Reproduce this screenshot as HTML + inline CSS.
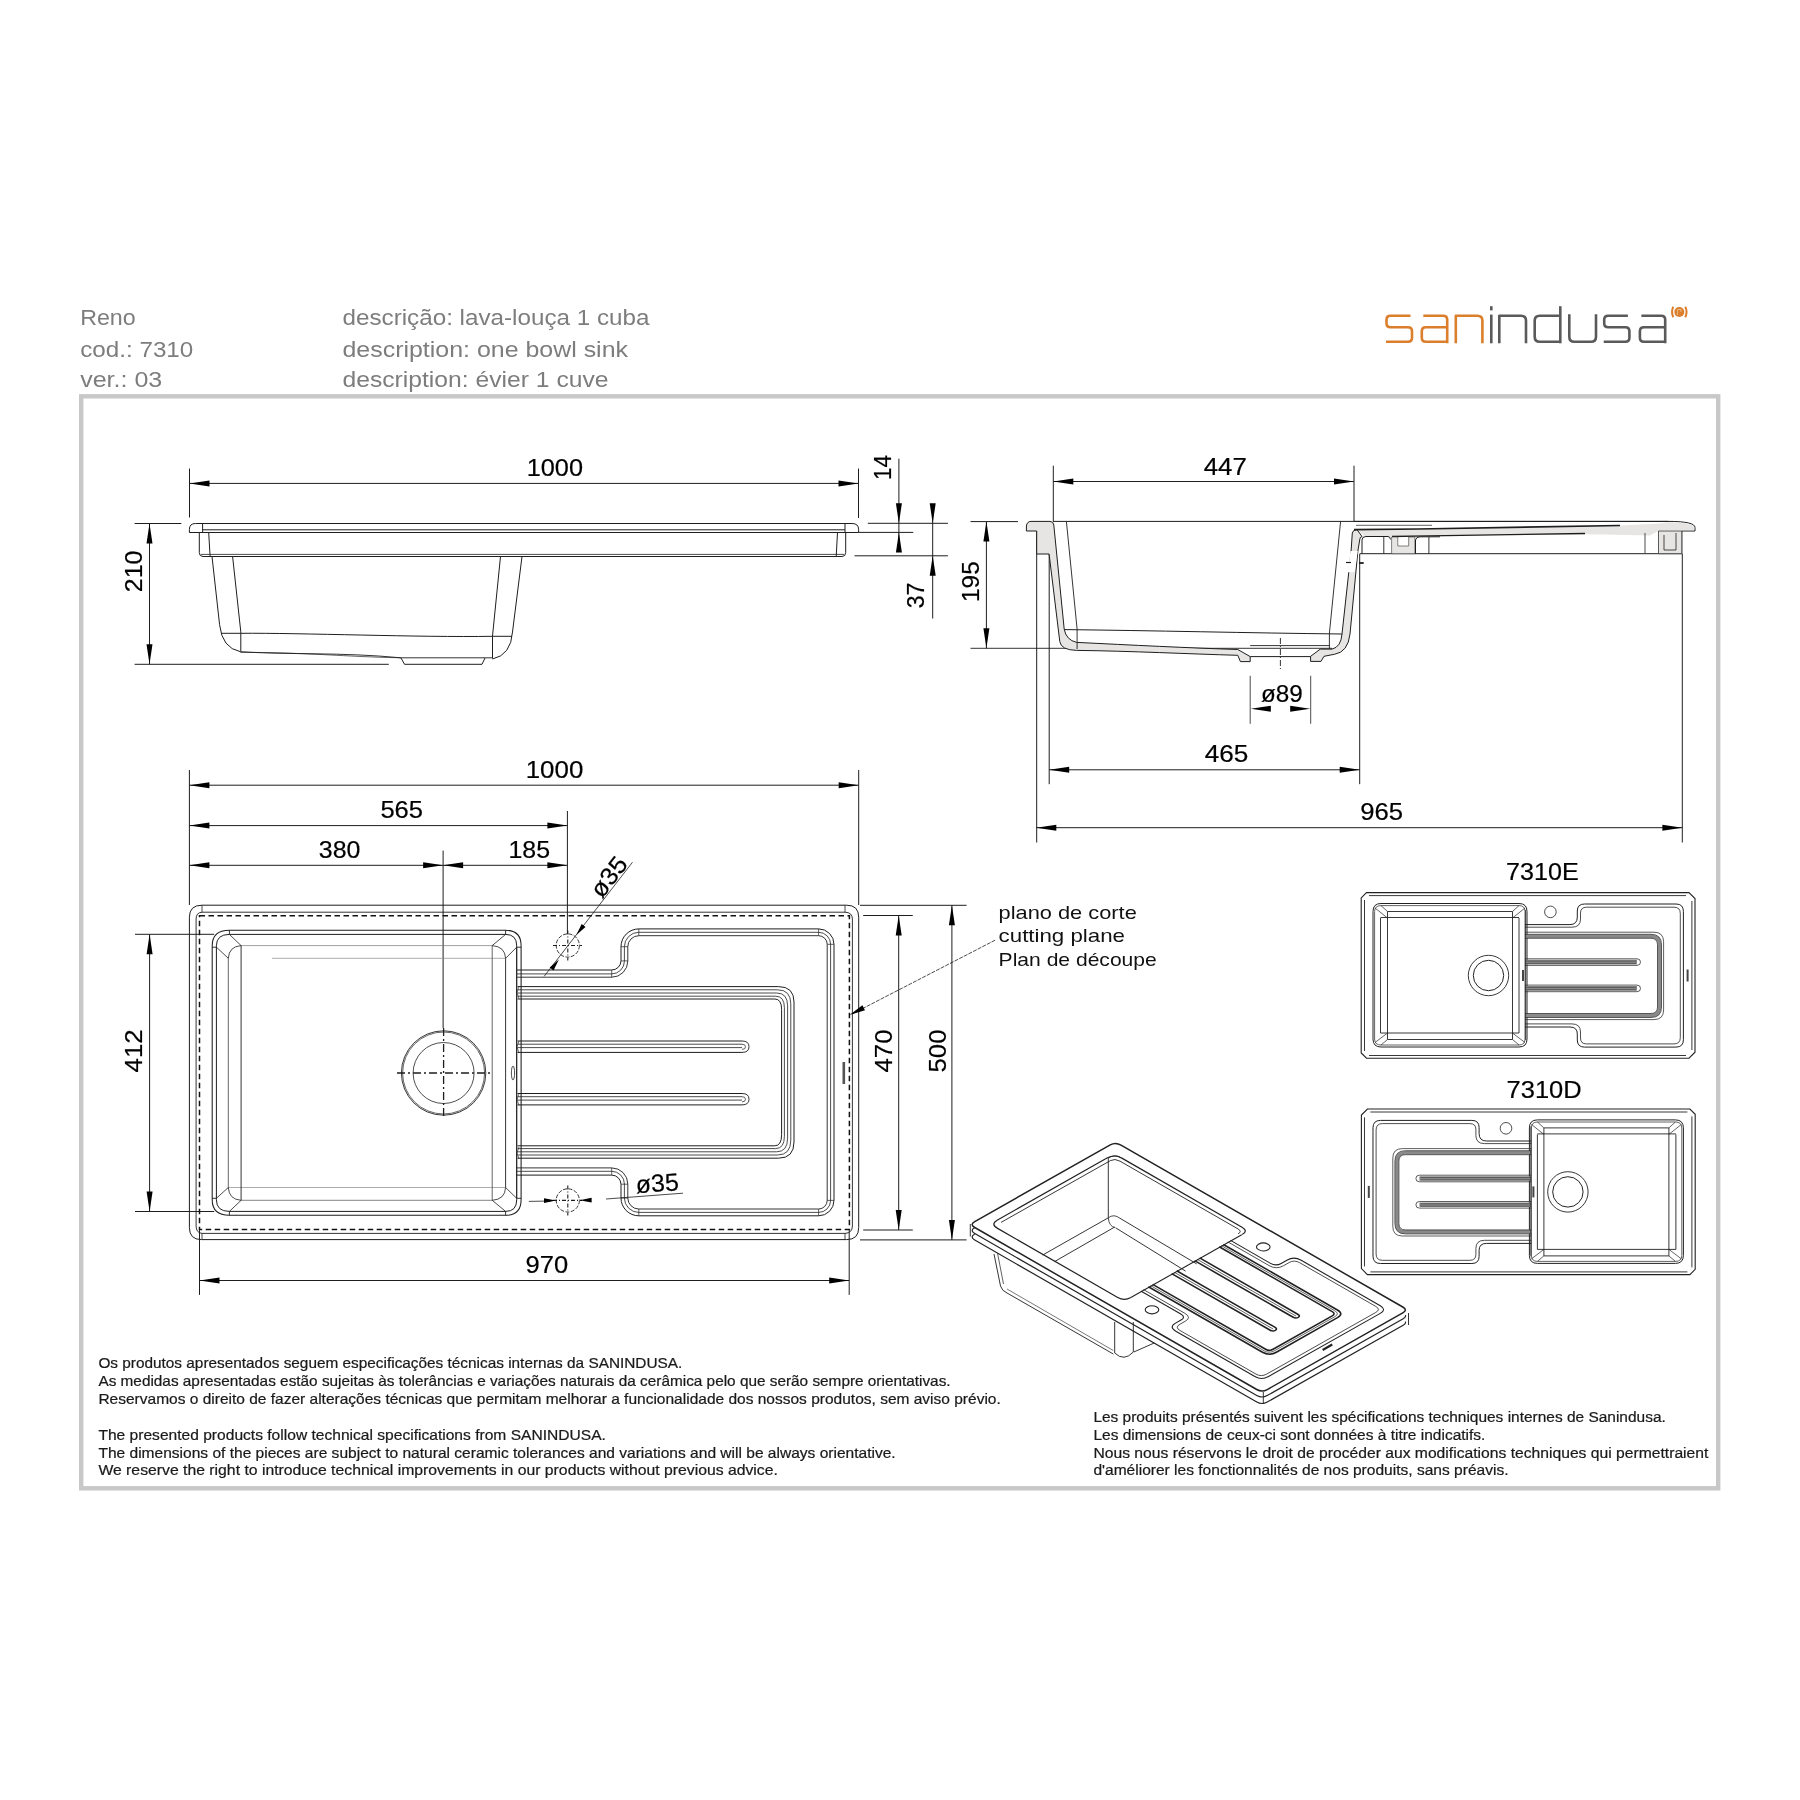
<!DOCTYPE html>
<html><head><meta charset="utf-8">
<style>
html,body{margin:0;padding:0;background:#fff;}
body{width:1800px;height:1800px;position:relative;overflow:hidden;font-family:"Liberation Sans",sans-serif;}
svg{position:absolute;left:0;top:0;will-change:transform;}
svg text{font-family:"Liberation Sans",sans-serif;}
.hd{position:absolute;color:#7f7f7f;font-size:21px;white-space:nowrap;line-height:1;}
.ft{position:absolute;color:#1a1a1a;font-size:14px;white-space:nowrap;line-height:17.8px;}
</style></head><body>
<svg width="1800" height="1800" viewBox="0 0 1800 1800">
<rect x="81.2" y="396.3" width="1637" height="1092" fill="none" stroke="#c8c8c8" stroke-width="4.4"/>
<line x1="189.5" y1="468.5" x2="189.5" y2="517.5" stroke="#1e1e1e" stroke-width="1.0" />
<line x1="858.5" y1="468.5" x2="858.5" y2="518.0" stroke="#1e1e1e" stroke-width="1.0" />
<line x1="189.5" y1="483.4" x2="858.5" y2="483.4" stroke="#1e1e1e" stroke-width="1.0" />
<polygon points="189.5,483.4 209.5,480.4 209.5,486.4" fill="#000"/>
<polygon points="858.5,483.4 838.5,486.4 838.5,480.4" fill="#000"/>
<line x1="134.6" y1="523.5" x2="181.3" y2="523.5" stroke="#1e1e1e" stroke-width="1.0" />
<line x1="134.6" y1="664.3" x2="388.8" y2="664.3" stroke="#1e1e1e" stroke-width="1.0" />
<line x1="149.5" y1="523.5" x2="149.5" y2="664.3" stroke="#1e1e1e" stroke-width="1.0" />
<polygon points="149.5,523.5 152.5,543.5 146.5,543.5" fill="#000"/>
<polygon points="149.5,664.3 146.5,644.3 152.5,644.3" fill="#000"/>
<line x1="898.9" y1="458.7" x2="898.9" y2="551.5" stroke="#1e1e1e" stroke-width="1.0" />
<polygon points="898.9,523.3 895.9,503.3 901.9,503.3" fill="#000"/>
<polygon points="898.9,532.4 901.9,552.4 895.9,552.4" fill="#000"/>
<line x1="867.8" y1="523.3" x2="947.9" y2="523.3" stroke="#1e1e1e" stroke-width="1.0" />
<line x1="858.5" y1="532.4" x2="913.3" y2="532.4" stroke="#1e1e1e" stroke-width="1.0" />
<line x1="854.5" y1="555.8" x2="947.9" y2="555.8" stroke="#1e1e1e" stroke-width="1.0" />
<line x1="932.7" y1="505.3" x2="932.7" y2="618.5" stroke="#1e1e1e" stroke-width="1.0" />
<polygon points="932.7,523.3 929.7,503.3 935.7,503.3" fill="#000"/>
<polygon points="932.7,555.8 935.7,575.8 929.7,575.8" fill="#000"/>
<path d="M195.5,523.5 H852 Q858.6,523.5 858.6,529.4 V532.5 H189.4 V529.4 Q189.4,523.5 195.5,523.5 Z" stroke="#1e1e1e" stroke-width="1.0" fill="none" />
<line x1="202.6" y1="529.8" x2="845.0" y2="529.8" stroke="#1e1e1e" stroke-width="1.0" />
<line x1="202.6" y1="523.5" x2="202.6" y2="532.5" stroke="#1e1e1e" stroke-width="1.0" />
<line x1="845.0" y1="523.5" x2="845.0" y2="532.5" stroke="#1e1e1e" stroke-width="1.0" />
<path d="M199.3,532.5 V552.5 Q199.3,556.5 203,556.5 H842 Q845.7,556.5 845.7,552.5 V532.5" stroke="#1e1e1e" stroke-width="1.0" fill="none" />
<line x1="208.7" y1="532.5" x2="210.1" y2="556.5" stroke="#1e1e1e" stroke-width="1.0" />
<line x1="837.5" y1="532.5" x2="836.2" y2="556.5" stroke="#1e1e1e" stroke-width="1.0" />
<line x1="201.0" y1="554.4" x2="844.0" y2="554.4" stroke="#1e1e1e" stroke-width="0.8" />
<path d="M212,556.5 L219.6,624.8 Q222,648 240.4,651.7" stroke="#1e1e1e" stroke-width="1.0" fill="none" />
<path d="M232.6,556.5 L240.8,631.9 V651.7" stroke="#1e1e1e" stroke-width="1.0" fill="none" />
<path d="M522,556.5 L512.5,632 Q511,655 492.5,659" stroke="#1e1e1e" stroke-width="1.0" fill="none" />
<path d="M500.5,556.5 L492.5,636 V658.5" stroke="#1e1e1e" stroke-width="1.0" fill="none" />
<path d="M221,633.3 H240.8 C300,632.8 420,637.5 492.5,636.3 H512" stroke="#1e1e1e" stroke-width="1.0" fill="none" />
<path d="M240.4,651.7 C290,655 340,652 401,657.8 H492.5" stroke="#1e1e1e" stroke-width="0.9" fill="none" />
<path d="M240.4,652.4 C300,652 350,657 401,657.8" stroke="#1e1e1e" stroke-width="0.7" fill="none" />
<path d="M401,658 L404.5,664.3 H482 L485,658" stroke="#1e1e1e" stroke-width="1.0" fill="none" />
<line x1="1053.3" y1="465.7" x2="1053.3" y2="521.4" stroke="#1e1e1e" stroke-width="1.0" />
<line x1="1354.0" y1="465.7" x2="1354.0" y2="521.4" stroke="#1e1e1e" stroke-width="1.0" />
<line x1="1053.3" y1="481.5" x2="1354.0" y2="481.5" stroke="#1e1e1e" stroke-width="1.0" />
<polygon points="1053.3,481.5 1073.3,478.5 1073.3,484.5" fill="#000"/>
<polygon points="1354.0,481.5 1334.0,484.5 1334.0,478.5" fill="#000"/>
<line x1="970.5" y1="521.6" x2="1018.0" y2="521.6" stroke="#1e1e1e" stroke-width="1.0" />
<line x1="970.5" y1="648.3" x2="1332.0" y2="648.3" stroke="#1e1e1e" stroke-width="0.9" />
<line x1="986.4" y1="521.6" x2="986.4" y2="648.3" stroke="#1e1e1e" stroke-width="1.0" />
<polygon points="986.4,521.6 989.4,541.6 983.4,541.6" fill="#000"/>
<polygon points="986.4,648.3 983.4,628.3 989.4,628.3" fill="#000"/>
<line x1="1053.0" y1="521.4" x2="1668.6" y2="521.4" stroke="#1e1e1e" stroke-width="1.0" />
<line x1="1036.7" y1="531.0" x2="1036.7" y2="842.5" stroke="#1e1e1e" stroke-width="1.0" />
<line x1="1049.2" y1="554.0" x2="1049.2" y2="784.2" stroke="#1e1e1e" stroke-width="1.0" />
<line x1="1359.7" y1="554.0" x2="1359.7" y2="784.2" stroke="#1e1e1e" stroke-width="1.0" />
<line x1="1682.3" y1="553.7" x2="1682.3" y2="842.5" stroke="#1e1e1e" stroke-width="1.0" />
<line x1="1049.2" y1="769.8" x2="1359.7" y2="769.8" stroke="#1e1e1e" stroke-width="1.0" />
<polygon points="1049.2,769.8 1069.2,766.8 1069.2,772.8" fill="#000"/>
<polygon points="1359.7,769.8 1339.7,772.8 1339.7,766.8" fill="#000"/>
<line x1="1036.3" y1="827.7" x2="1682.4" y2="827.7" stroke="#1e1e1e" stroke-width="1.0" />
<polygon points="1036.3,827.7 1056.3,824.7 1056.3,830.7" fill="#000"/>
<polygon points="1682.4,827.7 1662.4,830.7 1662.4,824.7" fill="#000"/>
<path d="M1031,521.4 H1050 Q1053.5,521.4 1053.8,525 L1064.2,629 Q1066,640 1076.7,642.4 C1130,645 1190,648 1237.8,649.5 L1250.2,656.6 V661.6 H1240.4 L1237.8,655.3 C1190,654 1130,651 1076.7,650.4 Q1061,650 1059.8,641.6 L1049.1,554 H1036.7 V531 H1026.4 V526 Q1027,521.4 1031,521.4 Z" stroke="#1e1e1e" stroke-width="1.0" fill="#e7e5e3" />
<path d="M1310.6,661.4 V656.3 L1320.3,649.1 H1332 Q1341,647 1342,634 L1351.1,551 L1352.3,533 Q1353,529.6 1357,529.6 L1362,536.5 Q1359.7,537 1359.7,540 L1357.9,551 L1350,634 Q1348,652 1334.8,654.2 L1324,656.3 L1321,661.4 Z" stroke="#1e1e1e" stroke-width="1.0" fill="#e7e5e3" />
<polygon points="1350.5,551 1357.8,551 1354.6,572.3 1347.6,572.3" fill="#fff"/>
<line x1="1346.0" y1="562.5" x2="1351.0" y2="562.5" stroke="#1e1e1e" stroke-width="1.2" />
<line x1="1359.0" y1="563.0" x2="1363.7" y2="563.0" stroke="#1e1e1e" stroke-width="1.8" />
<path d="M1066.4,521.4 L1077.1,629 V649" stroke="#1e1e1e" stroke-width="0.9" fill="none" />
<path d="M1340.6,521.4 L1329.4,633.2 V648.4" stroke="#1e1e1e" stroke-width="0.9" fill="none" />
<path d="M1064.2,629.6 C1150,630.5 1250,633 1342,634" stroke="#1e1e1e" stroke-width="1.0" fill="none" />
<path d="M1250.2,645.6 H1329.4" stroke="#1e1e1e" stroke-width="0.9" fill="none" />
<path d="M1250.2,656.6 H1310.6" stroke="#1e1e1e" stroke-width="1.0" fill="none" />
<path d="M1280.4,638 V670" stroke="#1e1e1e" stroke-width="0.9" fill="none" stroke-dasharray="6,2,1,2"/>
<path d="M1354,521.4 H1668.6 Q1695,521.4 1695,527.5 V531 H1681.8 V553.7 H1359.7" stroke="#1e1e1e" stroke-width="1.0" fill="none" />
<path d="M1358,530 C1450,529.2 1550,527 1620,525.5 L1660,523.5 L1668.6,522.2 Q1694,522.3 1694.2,528 V530.3 H1660 L1650,535.5 C1560,533 1470,535 1392,536.5 L1365,537 Z" fill="#e7e5e3" stroke="none"/>
<path d="M1354,529.6 C1450,528.8 1560,527 1620,525.5" stroke="#1e1e1e" stroke-width="1.6" fill="none" />
<path d="M1356,525.3 H1432" stroke="#1e1e1e" stroke-width="0.7" fill="none" />
<path d="M1392,536.5 C1470,535.3 1560,534 1585,533.5" stroke="#1e1e1e" stroke-width="1.3" fill="none" />
<path d="M1362,553.7 V540 Q1362,536.5 1366,536.5 H1388 Q1390.4,536.5 1390.4,539.5" stroke="#1e1e1e" stroke-width="1.0" fill="none" />
<line x1="1383.8" y1="537.0" x2="1383.8" y2="553.7" stroke="#1e1e1e" stroke-width="0.9" />
<path d="M1391.6,537 H1397.8 V546 H1408.7 V537 H1414.9 V553.7 H1391.6 Z" fill="#e7e5e3" stroke="#333" stroke-width="0.6"/>
<path d="M1415.5,553.7 V540 Q1416,536.8 1420,536.8 H1440" stroke="#1e1e1e" stroke-width="1.0" fill="none" />
<line x1="1428.9" y1="537.0" x2="1428.9" y2="553.7" stroke="#1e1e1e" stroke-width="0.9" />
<path d="M1658.5,531 H1681.8 V553.7 H1658.5 Z" fill="#e7e5e3" stroke="#333" stroke-width="0.8"/>
<path d="M1664,535 V550 H1676 V533" stroke="#1e1e1e" stroke-width="0.8" fill="none" />
<line x1="1645.0" y1="533.0" x2="1645.0" y2="553.0" stroke="#1e1e1e" stroke-width="0.8" />
<line x1="189.4" y1="770.0" x2="189.4" y2="905.0" stroke="#1e1e1e" stroke-width="1.0" />
<line x1="858.7" y1="770.0" x2="858.7" y2="905.0" stroke="#1e1e1e" stroke-width="1.0" />
<line x1="189.4" y1="785.2" x2="858.7" y2="785.2" stroke="#1e1e1e" stroke-width="1.0" />
<polygon points="189.4,785.2 209.4,782.2 209.4,788.2" fill="#000"/>
<polygon points="858.7,785.2 838.7,788.2 838.7,782.2" fill="#000"/>
<line x1="567.4" y1="811.0" x2="567.4" y2="934.0" stroke="#1e1e1e" stroke-width="1.0" />
<line x1="189.4" y1="825.6" x2="567.4" y2="825.6" stroke="#1e1e1e" stroke-width="1.0" />
<polygon points="189.4,825.6 209.4,822.6 209.4,828.6" fill="#000"/>
<polygon points="567.4,825.6 547.4,828.6 547.4,822.6" fill="#000"/>
<line x1="443.1" y1="850.6" x2="443.1" y2="1028.0" stroke="#1e1e1e" stroke-width="1.0" />
<line x1="189.4" y1="865.3" x2="567.4" y2="865.3" stroke="#1e1e1e" stroke-width="1.0" />
<polygon points="189.4,865.3 209.4,862.3 209.4,868.3" fill="#000"/>
<polygon points="443.1,865.3 423.1,868.3 423.1,862.3" fill="#000"/>
<polygon points="443.1,865.3 463.1,862.3 463.1,868.3" fill="#000"/>
<polygon points="567.4,865.3 547.4,868.3 547.4,862.3" fill="#000"/>
<line x1="135.0" y1="934.3" x2="214.2" y2="934.3" stroke="#1e1e1e" stroke-width="1.0" />
<line x1="135.0" y1="1211.5" x2="214.2" y2="1211.5" stroke="#1e1e1e" stroke-width="1.0" />
<line x1="149.6" y1="934.3" x2="149.6" y2="1211.5" stroke="#1e1e1e" stroke-width="1.0" />
<polygon points="149.6,934.3 152.6,954.3 146.6,954.3" fill="#000"/>
<polygon points="149.6,1211.5 146.6,1191.5 152.6,1191.5" fill="#000"/>
<line x1="863.2" y1="915.5" x2="912.8" y2="915.5" stroke="#1e1e1e" stroke-width="1.0" />
<line x1="863.2" y1="1230.0" x2="912.8" y2="1230.0" stroke="#1e1e1e" stroke-width="1.0" />
<line x1="898.7" y1="915.5" x2="898.7" y2="1230.0" stroke="#1e1e1e" stroke-width="1.0" />
<polygon points="898.7,915.5 901.7,935.5 895.7,935.5" fill="#000"/>
<polygon points="898.7,1230.0 895.7,1210.0 901.7,1210.0" fill="#000"/>
<line x1="860.0" y1="905.3" x2="966.6" y2="905.3" stroke="#1e1e1e" stroke-width="1.0" />
<line x1="860.0" y1="1239.9" x2="966.6" y2="1239.9" stroke="#1e1e1e" stroke-width="1.0" />
<line x1="951.9" y1="905.3" x2="951.9" y2="1239.9" stroke="#1e1e1e" stroke-width="1.0" />
<polygon points="951.9,905.3 954.9,925.3 948.9,925.3" fill="#000"/>
<polygon points="951.9,1239.9 948.9,1219.9 954.9,1219.9" fill="#000"/>
<line x1="199.5" y1="1230.0" x2="199.5" y2="1294.9" stroke="#1e1e1e" stroke-width="1.0" />
<line x1="849.2" y1="1230.0" x2="849.2" y2="1294.9" stroke="#1e1e1e" stroke-width="1.0" />
<line x1="199.5" y1="1280.5" x2="849.2" y2="1280.5" stroke="#1e1e1e" stroke-width="1.0" />
<polygon points="199.5,1280.5 219.5,1277.5 219.5,1283.5" fill="#000"/>
<polygon points="849.2,1280.5 829.2,1283.5 829.2,1277.5" fill="#000"/>
<path d="M202,905.2 H846.7 Q858.7,905.2 858.7,917.2 V1227.6 Q858.7,1239.6 846.7,1239.6 H201.4 Q189.4,1239.6 189.4,1227.6 V917.2 Q189.4,905.2 202,905.2 Z" stroke="#1e1e1e" stroke-width="1.0" fill="none" />
<path d="M202,912.2 Q196.1,912.6 196.1,919 V1226 Q196.1,1232.8 202,1233.4 H845 Q852.4,1233 852.4,1226 V919 Q852.4,912.4 845,912.2 Z" stroke="#1e1e1e" stroke-width="0.9" fill="none" />
<line x1="202.0" y1="905.2" x2="202.0" y2="912.2" stroke="#1e1e1e" stroke-width="0.8" />
<line x1="845.0" y1="905.2" x2="845.0" y2="912.2" stroke="#1e1e1e" stroke-width="0.8" />
<line x1="202.0" y1="1233.4" x2="202.0" y2="1239.6" stroke="#1e1e1e" stroke-width="0.8" />
<line x1="845.0" y1="1233.4" x2="845.0" y2="1239.6" stroke="#1e1e1e" stroke-width="0.8" />
<rect x="199.5" y="915.7" width="649.9" height="313.9" fill="none" stroke="#111" stroke-width="1.5" stroke-dasharray="5.5,3.5"/>
<path d="M229.4,930.3 H505.6 Q521.1,930.3 521.1,945.8 V1199.8 Q521.1,1215.3 505.6,1215.3 H229.4 Q212.2,1215.3 212.2,1199.8 V945.8 Q212.2,930.3 229.4,930.3 Z" stroke="#1e1e1e" stroke-width="1.05" fill="none" />
<path d="M229.4,934.4 H505.6 Q516.7,934.4 516.7,945.8 V1199.8 Q516.7,1211.4 505.6,1211.4 H229.4 Q216.4,1211.4 216.4,1199.8 V945.8 Q216.4,934.4 229.4,934.4 Z" stroke="#1e1e1e" stroke-width="1.0" fill="none" />
<line x1="229.4" y1="930.3" x2="229.4" y2="934.4" stroke="#1e1e1e" stroke-width="0.9" />
<line x1="505.6" y1="930.3" x2="505.6" y2="934.4" stroke="#1e1e1e" stroke-width="0.9" />
<line x1="229.4" y1="1211.4" x2="229.4" y2="1215.3" stroke="#1e1e1e" stroke-width="0.9" />
<line x1="505.6" y1="1211.4" x2="505.6" y2="1215.3" stroke="#1e1e1e" stroke-width="0.9" />
<line x1="212.2" y1="947.2" x2="216.4" y2="947.2" stroke="#1e1e1e" stroke-width="0.9" />
<line x1="516.7" y1="947.2" x2="521.1" y2="947.2" stroke="#1e1e1e" stroke-width="0.9" />
<line x1="212.2" y1="1198.3" x2="216.4" y2="1198.3" stroke="#1e1e1e" stroke-width="0.9" />
<line x1="516.7" y1="1198.3" x2="521.1" y2="1198.3" stroke="#1e1e1e" stroke-width="0.9" />
<line x1="241.0" y1="945.6" x2="492.2" y2="945.6" stroke="#777" stroke-width="0.7" />
<line x1="272.0" y1="958.3" x2="505.6" y2="958.3" stroke="#888" stroke-width="0.7" />
<line x1="228.0" y1="1187.5" x2="505.6" y2="1187.5" stroke="#888" stroke-width="0.7" />
<line x1="241.0" y1="1200.3" x2="492.2" y2="1200.3" stroke="#666" stroke-width="0.8" />
<line x1="228.3" y1="958.3" x2="228.3" y2="1187.5" stroke="#555" stroke-width="0.9" />
<line x1="241.1" y1="945.6" x2="241.1" y2="1200.3" stroke="#1e1e1e" stroke-width="0.9" />
<line x1="492.2" y1="945.6" x2="492.2" y2="1200.3" stroke="#555" stroke-width="0.9" />
<line x1="505.6" y1="958.3" x2="505.6" y2="1187.5" stroke="#1e1e1e" stroke-width="0.9" />
<path d="M229.4,934.4 L241.1,945.6 M216.4,947.2 L228.3,958.3 M241.1,945.6 Q229,946.5 228.3,958.3" stroke="#1e1e1e" stroke-width="0.8" fill="none" />
<path d="M505.6,934.4 L492.2,945.6 M516.7,947.2 L505.6,958.3 M492.2,945.6 Q505,946.5 505.6,958.3" stroke="#1e1e1e" stroke-width="0.8" fill="none" />
<path d="M216.4,1198.3 L228.3,1187.5 M229.4,1211.4 L241.1,1200.3 M228.3,1187.5 Q229,1199.5 241.1,1200.3" stroke="#1e1e1e" stroke-width="0.8" fill="none" />
<path d="M516.7,1198.3 L505.6,1187.5 M505.6,1211.4 L492.2,1200.3 M505.6,1187.5 Q505,1199.5 492.2,1200.3" stroke="#1e1e1e" stroke-width="0.8" fill="none" />
<ellipse cx="513" cy="1073" rx="1.6" ry="7" fill="none" stroke="#222" stroke-width="0.8"/>
<circle cx="443.6" cy="1073" r="42.2" fill="none" stroke="#222" stroke-width="0.9"/>
<circle cx="443.6" cy="1073" r="41" fill="none" stroke="#222" stroke-width="0.7"/>
<circle cx="443.6" cy="1073" r="30.5" fill="none" stroke="#222" stroke-width="0.8"/>
<path d="M397,1073 H490" stroke="#1e1e1e" stroke-width="1.3" fill="none" stroke-dasharray="8,3,2,3"/>
<path d="M443.6,1028 V1119" stroke="#1e1e1e" stroke-width="1.3" fill="none" stroke-dasharray="8,3,2,3"/>
<circle cx="567.8" cy="945.5" r="11.6" fill="none" stroke="#222" stroke-width="0.9" stroke-dasharray="4,1.5"/>
<path d="M553,945.5 H582" stroke="#1e1e1e" stroke-width="1.1" fill="none" stroke-dasharray="4,2,1,2"/>
<path d="M567.8,930.5 V960.5" stroke="#1e1e1e" stroke-width="1.1" fill="none" stroke-dasharray="4,2,1,2"/>
<circle cx="567.8" cy="1200.4" r="11.6" fill="none" stroke="#222" stroke-width="0.9" stroke-dasharray="4,1.5"/>
<path d="M553,1200.4 H582" stroke="#1e1e1e" stroke-width="1.1" fill="none" stroke-dasharray="4,2,1,2"/>
<path d="M567.8,1185.4 V1215.4" stroke="#1e1e1e" stroke-width="1.1" fill="none" stroke-dasharray="4,2,1,2"/>
<path d="M516.7,970 H611.7 A9.3,9.3 0 0 0 621,960.7 V946.7 A17.8,17.8 0 0 1 638.8,928.9 H818.6 A15.4,15.4 0 0 1 834,944.3 V1200.4 A15.4,15.4 0 0 1 818.6,1215.8 H638.8 A17.8,17.8 0 0 1 621,1198 V1184.4 A9.3,9.3 0 0 0 611.7,1175.1 H516.7" stroke="#1e1e1e" stroke-width="1.0" fill="none" />
<path d="M516.7,973.9 H611.7 A12.7,12.7 0 0 0 624.4,961.2 V946.7 A14.4,14.4 0 0 1 638.8,932.3 H818.6 A12,12 0 0 1 830.6,944.3 V1200.4 A12,12 0 0 1 818.6,1212.4 H638.8 A14.4,14.4 0 0 1 624.4,1198 V1184 A12.7,12.7 0 0 0 611.7,1171.3 H516.7" stroke="#1e1e1e" stroke-width="0.8" fill="none" />
<path d="M516.7,977.2 H611.7 A16.1,16.1 0 0 0 627.8,961.1 V946.7 A11,11 0 0 1 638.8,935.7 H818.6 A8.6,8.6 0 0 1 827.2,944.3 V1200.4 A8.6,8.6 0 0 1 818.6,1209 H638.8 A11,11 0 0 1 627.8,1198 V1184 A16.1,16.1 0 0 0 611.7,1167.9 H516.7" stroke="#1e1e1e" stroke-width="0.9" fill="none" />
<line x1="611.7" y1="970.0" x2="611.7" y2="977.2" stroke="#1e1e1e" stroke-width="0.7" />
<line x1="621.0" y1="960.9" x2="627.8" y2="960.9" stroke="#1e1e1e" stroke-width="0.7" />
<line x1="621.0" y1="946.7" x2="627.8" y2="946.7" stroke="#1e1e1e" stroke-width="0.7" />
<line x1="638.8" y1="928.9" x2="638.8" y2="935.7" stroke="#1e1e1e" stroke-width="0.7" />
<line x1="818.6" y1="928.9" x2="818.6" y2="935.7" stroke="#1e1e1e" stroke-width="0.7" />
<line x1="827.2" y1="944.3" x2="834.0" y2="944.3" stroke="#1e1e1e" stroke-width="0.7" />
<line x1="827.2" y1="1200.4" x2="834.0" y2="1200.4" stroke="#1e1e1e" stroke-width="0.7" />
<line x1="818.6" y1="1209.0" x2="818.6" y2="1215.8" stroke="#1e1e1e" stroke-width="0.7" />
<line x1="638.8" y1="1209.0" x2="638.8" y2="1215.8" stroke="#1e1e1e" stroke-width="0.7" />
<line x1="621.0" y1="1198.0" x2="627.8" y2="1198.0" stroke="#1e1e1e" stroke-width="0.7" />
<line x1="621.0" y1="1184.2" x2="627.8" y2="1184.2" stroke="#1e1e1e" stroke-width="0.7" />
<line x1="611.7" y1="1167.9" x2="611.7" y2="1175.1" stroke="#1e1e1e" stroke-width="0.7" />
<line x1="516.7" y1="948.0" x2="516.7" y2="1198.0" stroke="#1e1e1e" stroke-width="0.8" />
<path d="M517.5,986.6 H778.5 Q794.0,986.6 794.0,1002.0 V1142.0 Q794.0,1158.2 778.5,1158.2 H517.5" stroke="#1e1e1e" stroke-width="1.0" fill="none" />
<path d="M517.5,989.8 H777.5 Q790.8,989.8 790.8,1003.9 V1140.1 Q790.8,1155.0 777.5,1155.0 H517.5" stroke="#1e1e1e" stroke-width="0.8" fill="none" />
<path d="M517.5,993.0 H776.6 Q787.6,993.0 787.6,1005.8 V1138.2 Q787.6,1151.8 776.6,1151.8 H517.5" stroke="#1e1e1e" stroke-width="0.8" fill="none" />
<path d="M517.5,996.2 H775.6 Q784.4,996.2 784.4,1007.8 V1136.2 Q784.4,1148.6 775.6,1148.6 H517.5" stroke="#1e1e1e" stroke-width="0.8" fill="none" />
<path d="M517.5,999.0 H774.8 Q781.6,999.0 781.6,1009.4 V1134.6 Q781.6,1145.8 774.8,1145.8 H517.5" stroke="#1e1e1e" stroke-width="1.0" fill="none" />
<line x1="517.5" y1="1041.0" x2="742.0" y2="1041.0" stroke="#1e1e1e" stroke-width="1.0" />
<line x1="517.5" y1="1044.2" x2="742.0" y2="1044.2" stroke="#1e1e1e" stroke-width="0.8" />
<line x1="517.5" y1="1047.6" x2="742.0" y2="1047.6" stroke="#1e1e1e" stroke-width="0.8" />
<line x1="517.5" y1="1052.4" x2="742.0" y2="1052.4" stroke="#1e1e1e" stroke-width="1.0" />
<path d="M742,1041 Q749,1041 749,1046.7 Q749,1052.4 742,1052.4" stroke="#1e1e1e" stroke-width="0.9" fill="none" />
<path d="M742,1044.2 Q745.5,1044.2 745.5,1046.7 Q745.5,1049.4 742,1049.4" stroke="#1e1e1e" stroke-width="0.7" fill="none" />
<line x1="517.5" y1="1093.5" x2="742.0" y2="1093.5" stroke="#1e1e1e" stroke-width="1.0" />
<line x1="517.5" y1="1096.7" x2="742.0" y2="1096.7" stroke="#1e1e1e" stroke-width="0.8" />
<line x1="517.5" y1="1100.1" x2="742.0" y2="1100.1" stroke="#1e1e1e" stroke-width="0.8" />
<line x1="517.5" y1="1104.9" x2="742.0" y2="1104.9" stroke="#1e1e1e" stroke-width="1.0" />
<path d="M742,1093.5 Q749,1093.5 749,1099.2 Q749,1104.9 742,1104.9" stroke="#1e1e1e" stroke-width="0.9" fill="none" />
<path d="M742,1096.7 Q745.5,1096.7 745.5,1099.2 Q745.5,1101.9 742,1101.9" stroke="#1e1e1e" stroke-width="0.7" fill="none" />
<path d="M519,986.6 L517,992.6 L519,998.6" stroke="#1e1e1e" stroke-width="0.6" fill="none" />
<path d="M519,1041 L517,1047 L519,1053" stroke="#1e1e1e" stroke-width="0.6" fill="none" />
<path d="M519,1093.5 L517,1099.5 L519,1105.5" stroke="#1e1e1e" stroke-width="0.6" fill="none" />
<path d="M519,1147 L517,1153 L519,1159" stroke="#1e1e1e" stroke-width="0.6" fill="none" />
<rect x="842.5" y="1062" width="2.6" height="22" fill="#555"/>
<line x1="544.2" y1="976.3" x2="632.5" y2="862.2" stroke="#1e1e1e" stroke-width="0.8" />
<polygon points="558.9,959.4 553.5,970.4 549.7,967.4" fill="#000"/>
<polygon points="576.3,934.9 581.7,923.9 585.5,926.9" fill="#000"/>
<line x1="528.8" y1="1201.4" x2="551.0" y2="1201.0" stroke="#1e1e1e" stroke-width="0.8" />
<line x1="606.0" y1="1199.0" x2="683.0" y2="1193.2" stroke="#1e1e1e" stroke-width="0.8" />
<polygon points="556.0,1200.6 544.0,1203.0 544.0,1198.2" fill="#000"/>
<polygon points="579.6,1200.2 591.6,1197.8 591.6,1202.6" fill="#000"/>
<text x="-28.15" y="8.25" font-size="23.98" fill="#000" textLength="56.26" lengthAdjust="spacingAndGlyphs" stroke="#000" stroke-width="0.2" transform="translate(554.85 467.50) rotate(0)">1000</text>
<text x="-20.80" y="8.25" font-size="23.98" fill="#000" textLength="41.60" lengthAdjust="spacingAndGlyphs" stroke="#000" stroke-width="0.2" transform="translate(133.60 571.40) rotate(-90)">210</text>
<text x="-12.45" y="8.25" font-size="23.98" fill="#000" textLength="24.94" lengthAdjust="spacingAndGlyphs" stroke="#000" stroke-width="0.2" transform="translate(882.60 467.60) rotate(-90)">14</text>
<text x="-12.80" y="8.25" font-size="23.98" fill="#000" textLength="25.64" lengthAdjust="spacingAndGlyphs" stroke="#000" stroke-width="0.2" transform="translate(915.90 595.50) rotate(-90)">37</text>
<text x="-21.55" y="8.25" font-size="23.98" fill="#000" textLength="43.10" lengthAdjust="spacingAndGlyphs" stroke="#000" stroke-width="0.2" transform="translate(1225.20 466.30) rotate(0)">447</text>
<text x="-20.40" y="8.25" font-size="23.98" fill="#000" textLength="40.80" lengthAdjust="spacingAndGlyphs" stroke="#000" stroke-width="0.2" transform="translate(971.00 581.60) rotate(-90)">195</text>
<text x="-21.80" y="8.25" font-size="23.98" fill="#000" textLength="43.60" lengthAdjust="spacingAndGlyphs" stroke="#000" stroke-width="0.2" transform="translate(1226.50 753.60) rotate(0)">465</text>
<text x="-21.40" y="8.25" font-size="23.98" fill="#000" textLength="42.80" lengthAdjust="spacingAndGlyphs" stroke="#000" stroke-width="0.2" transform="translate(1381.70 812.00) rotate(0)">965</text>
<text x="-20.90" y="8.38" font-size="24.68" fill="#000" textLength="41.83" lengthAdjust="spacingAndGlyphs" stroke="#000" stroke-width="0.2" transform="translate(1281.80 693.20) rotate(0)">ø89</text>
<text x="-28.85" y="8.25" font-size="23.98" fill="#000" textLength="57.66" lengthAdjust="spacingAndGlyphs" stroke="#000" stroke-width="0.2" transform="translate(554.50 770.00) rotate(0)">1000</text>
<text x="-21.30" y="8.25" font-size="23.98" fill="#000" textLength="42.60" lengthAdjust="spacingAndGlyphs" stroke="#000" stroke-width="0.2" transform="translate(401.70 810.10) rotate(0)">565</text>
<text x="-20.80" y="8.25" font-size="23.98" fill="#000" textLength="41.60" lengthAdjust="spacingAndGlyphs" stroke="#000" stroke-width="0.2" transform="translate(339.60 849.50) rotate(0)">380</text>
<text x="-20.80" y="8.25" font-size="23.98" fill="#000" textLength="41.60" lengthAdjust="spacingAndGlyphs" stroke="#000" stroke-width="0.2" transform="translate(529.30 849.50) rotate(0)">185</text>
<text x="-21.30" y="8.25" font-size="23.98" fill="#000" textLength="42.60" lengthAdjust="spacingAndGlyphs" stroke="#000" stroke-width="0.2" transform="translate(546.90 1264.50) rotate(0)">970</text>
<text x="-21.55" y="8.38" font-size="23.98" fill="#000" textLength="43.10" lengthAdjust="spacingAndGlyphs" stroke="#000" stroke-width="0.2" transform="translate(134.10 1050.90) rotate(-90)">412</text>
<text x="-21.50" y="8.25" font-size="23.98" fill="#000" textLength="43.00" lengthAdjust="spacingAndGlyphs" stroke="#000" stroke-width="0.2" transform="translate(883.60 1051.00) rotate(-90)">470</text>
<text x="-21.50" y="8.25" font-size="23.98" fill="#000" textLength="43.00" lengthAdjust="spacingAndGlyphs" stroke="#000" stroke-width="0.2" transform="translate(937.40 1051.00) rotate(-90)">500</text>
<text x="-21.50" y="8.38" font-size="24.68" fill="#000" textLength="43.03" lengthAdjust="spacingAndGlyphs" stroke="#000" stroke-width="0.2" transform="translate(657.20 1183.30) rotate(-4)">ø35</text>
<text x="-22.00" y="8.38" font-size="24.68" fill="#000" textLength="44.03" lengthAdjust="spacingAndGlyphs" stroke="#000" stroke-width="0.2" transform="translate(608.80 876.90) rotate(-52.3)">ø35</text>
<text x="-36.30" y="8.56" font-size="24.82" fill="#000" textLength="72.63" lengthAdjust="spacingAndGlyphs" stroke="#000" stroke-width="0.2" transform="translate(1542.30 871.20) rotate(0)">7310E</text>
<text x="-37.50" y="8.25" font-size="23.98" fill="#000" textLength="75.03" lengthAdjust="spacingAndGlyphs" stroke="#000" stroke-width="0.2" transform="translate(1544.10 1089.50) rotate(0)">7310D</text>
<line x1="1250.2" y1="675.8" x2="1250.2" y2="723.8" stroke="#1e1e1e" stroke-width="0.8" />
<line x1="1310.7" y1="675.8" x2="1310.7" y2="723.8" stroke="#1e1e1e" stroke-width="0.8" />
<polygon points="1250.8,708.7 1270.8,705.7 1270.8,711.7" fill="#000"/>
<polygon points="1310.2,708.7 1290.2,711.7 1290.2,705.7" fill="#000"/>
<line x1="995.1" y1="940.2" x2="853.0" y2="1013.5" stroke="#1e1e1e" stroke-width="0.8" stroke-dasharray="4,1.2"/>
<polygon points="849.5,1015.1 862.4,1005.3 865.0,1010.3" fill="#000"/>
<text x="998.6" y="919.0" font-size="18.5" fill="#111" textLength="138.2" lengthAdjust="spacingAndGlyphs">plano de corte</text>
<text x="998.6" y="942.3" font-size="18.5" fill="#111" textLength="126.4" lengthAdjust="spacingAndGlyphs">cutting plane</text>
<text x="998.6" y="965.5" font-size="18.5" fill="#111" textLength="158.2" lengthAdjust="spacingAndGlyphs">Plan de découpe</text>
<g transform="" fill="none" stroke="#222">
<path d="M1366.5,892.6 H1689 L1695,898.6 V1052.2 L1689,1058.2 H1366.5 L1361.2,1052.9 V897.9 Z" stroke-width="1.1"/>
<path d="M1364.5,900 V1051 M1369,895.6 H1686 M1691.9,901 V1050 M1369,1055.5 H1686" stroke-width="0.9"/>
<path d="M1381,903.5 H1519 Q1527,903.5 1527,911.5 V1039 Q1527,1047 1519,1047 H1381 Q1373,1047 1373,1039 V911.5 Q1373,903.5 1381,903.5 Z" stroke-width="1.0"/>
<path d="M1381,905.6 H1519 Q1525,905.6 1525,911.6 V1039 Q1525,1045 1519,1045 H1381 Q1374.6,1045 1374.6,1039 V911.6 Q1374.6,905.6 1381,905.6 Z" stroke-width="0.7"/>
<path d="M1387.5,911.5 H1512.5 M1380.5,917.5 H1519 M1380.5,1033 H1519 M1387.5,1039.5 H1512.5 M1380.5,918 V1033 M1387.5,911.5 V1039.5 M1512.5,911.5 V1039.5 M1519,918 V1033" stroke-width="0.9"/>
<path d="M1375,908 L1387.5,918 M1381,905.6 L1387.5,911.5 M1525,908 L1512.5,918 M1519,905.6 L1512.5,911.5 M1375,1042.5 L1387.5,1033 M1381,1045 L1387.5,1039.5 M1525,1042.5 L1512.5,1033 M1519,1045 L1512.5,1039.5" stroke-width="0.7"/>
<circle cx="1488.5" cy="975.5" r="20.2" stroke-width="0.9"/>
<circle cx="1488.5" cy="975.5" r="15.2" stroke-width="1.0"/>
<rect x="1522" y="970" width="2" height="11" fill="#444" stroke="none"/>
<rect x="1686.6" y="969.5" width="2" height="12" fill="#444" stroke="none"/>
<circle cx="1550.4" cy="911.9" r="5.8" stroke-width="0.8"/>
<path d="M1525,924.6 H1570 Q1577.3,924.6 1577.3,917 V911 Q1577.3,904 1584.5,904 H1676 Q1683.4,904 1683.4,911.4 V1039.7 Q1683.4,1047.1 1676,1047.1 H1584.5 Q1577.3,1047.1 1577.3,1040 V1034 Q1577.3,1027 1570,1027 H1525" stroke-width="1.0"/>
<path d="M1525,927.2 H1572 Q1580.5,927.2 1580.5,919 V913 Q1580.5,907.2 1586.5,907.2 H1674 Q1680.3,907.2 1680.3,913.5 V1037.6 Q1680.3,1043.9 1674,1043.9 H1586.5 Q1580.5,1043.9 1580.5,1038 V1032 Q1580.5,1023.9 1572,1023.9 H1525" stroke-width="0.8"/>
<path d="M1525,932.2 H1654 Q1663.6,932.2 1663.6,941.8 V1010 Q1663.6,1019.6 1654,1019.6 H1525" stroke="#333" stroke-width="0.8"/>
<path d="M1525,936.3 H1651 Q1659.5,936.3 1659.5,944.8 V1007 Q1659.5,1015.5 1651,1015.5 H1525" stroke="#8a8a8a" stroke-width="3.6"/>
<path d="M1525,934.3 H1651 Q1661.5,934.3 1661.5,944.8 V1007 Q1661.5,1017.5 1651,1017.5 H1525" stroke="#333" stroke-width="0.8"/>
<path d="M1525,938.3 H1651 Q1657.5,938.3 1657.5,944.8 V1007 Q1657.5,1013.5 1651,1013.5 H1525" stroke="#333" stroke-width="0.8"/>
<path d="M1525,962.1 H1637" stroke="#8a8a8a" stroke-width="4.6"/>
<path d="M1525,958.8000000000001 H1637 Q1640.5,958.8000000000001 1640.5,962.1 Q1640.5,965.4 1637,965.4 H1525" stroke="#333" stroke-width="0.8"/>
<path d="M1525,961.1 H1636 M1525,963.4 H1636" stroke="#444" stroke-width="0.7"/>
<path d="M1525,988.4 H1637" stroke="#8a8a8a" stroke-width="4.6"/>
<path d="M1525,985.1 H1637 Q1640.5,985.1 1640.5,988.4 Q1640.5,991.6999999999999 1637,991.6999999999999 H1525" stroke="#333" stroke-width="0.8"/>
<path d="M1525,987.4 H1636 M1525,989.6999999999999 H1636" stroke="#444" stroke-width="0.7"/>
<path d="M1525.6,910 V1040" stroke-width="0.8"/>
</g>
<g transform="translate(3056.4 216.4) scale(-1 1)" fill="none" stroke="#222">
<path d="M1366.5,892.6 H1689 L1695,898.6 V1052.2 L1689,1058.2 H1366.5 L1361.2,1052.9 V897.9 Z" stroke-width="1.1"/>
<path d="M1364.5,900 V1051 M1369,895.6 H1686 M1691.9,901 V1050 M1369,1055.5 H1686" stroke-width="0.9"/>
<path d="M1381,903.5 H1519 Q1527,903.5 1527,911.5 V1039 Q1527,1047 1519,1047 H1381 Q1373,1047 1373,1039 V911.5 Q1373,903.5 1381,903.5 Z" stroke-width="1.0"/>
<path d="M1381,905.6 H1519 Q1525,905.6 1525,911.6 V1039 Q1525,1045 1519,1045 H1381 Q1374.6,1045 1374.6,1039 V911.6 Q1374.6,905.6 1381,905.6 Z" stroke-width="0.7"/>
<path d="M1387.5,911.5 H1512.5 M1380.5,917.5 H1519 M1380.5,1033 H1519 M1387.5,1039.5 H1512.5 M1380.5,918 V1033 M1387.5,911.5 V1039.5 M1512.5,911.5 V1039.5 M1519,918 V1033" stroke-width="0.9"/>
<path d="M1375,908 L1387.5,918 M1381,905.6 L1387.5,911.5 M1525,908 L1512.5,918 M1519,905.6 L1512.5,911.5 M1375,1042.5 L1387.5,1033 M1381,1045 L1387.5,1039.5 M1525,1042.5 L1512.5,1033 M1519,1045 L1512.5,1039.5" stroke-width="0.7"/>
<circle cx="1488.5" cy="975.5" r="20.2" stroke-width="0.9"/>
<circle cx="1488.5" cy="975.5" r="15.2" stroke-width="1.0"/>
<rect x="1522" y="970" width="2" height="11" fill="#444" stroke="none"/>
<rect x="1686.6" y="969.5" width="2" height="12" fill="#444" stroke="none"/>
<circle cx="1550.4" cy="911.9" r="5.8" stroke-width="0.8"/>
<path d="M1525,924.6 H1570 Q1577.3,924.6 1577.3,917 V911 Q1577.3,904 1584.5,904 H1676 Q1683.4,904 1683.4,911.4 V1039.7 Q1683.4,1047.1 1676,1047.1 H1584.5 Q1577.3,1047.1 1577.3,1040 V1034 Q1577.3,1027 1570,1027 H1525" stroke-width="1.0"/>
<path d="M1525,927.2 H1572 Q1580.5,927.2 1580.5,919 V913 Q1580.5,907.2 1586.5,907.2 H1674 Q1680.3,907.2 1680.3,913.5 V1037.6 Q1680.3,1043.9 1674,1043.9 H1586.5 Q1580.5,1043.9 1580.5,1038 V1032 Q1580.5,1023.9 1572,1023.9 H1525" stroke-width="0.8"/>
<path d="M1525,932.2 H1654 Q1663.6,932.2 1663.6,941.8 V1010 Q1663.6,1019.6 1654,1019.6 H1525" stroke="#333" stroke-width="0.8"/>
<path d="M1525,936.3 H1651 Q1659.5,936.3 1659.5,944.8 V1007 Q1659.5,1015.5 1651,1015.5 H1525" stroke="#8a8a8a" stroke-width="3.6"/>
<path d="M1525,934.3 H1651 Q1661.5,934.3 1661.5,944.8 V1007 Q1661.5,1017.5 1651,1017.5 H1525" stroke="#333" stroke-width="0.8"/>
<path d="M1525,938.3 H1651 Q1657.5,938.3 1657.5,944.8 V1007 Q1657.5,1013.5 1651,1013.5 H1525" stroke="#333" stroke-width="0.8"/>
<path d="M1525,962.1 H1637" stroke="#8a8a8a" stroke-width="4.6"/>
<path d="M1525,958.8000000000001 H1637 Q1640.5,958.8000000000001 1640.5,962.1 Q1640.5,965.4 1637,965.4 H1525" stroke="#333" stroke-width="0.8"/>
<path d="M1525,961.1 H1636 M1525,963.4 H1636" stroke="#444" stroke-width="0.7"/>
<path d="M1525,988.4 H1637" stroke="#8a8a8a" stroke-width="4.6"/>
<path d="M1525,985.1 H1637 Q1640.5,985.1 1640.5,988.4 Q1640.5,991.6999999999999 1637,991.6999999999999 H1525" stroke="#333" stroke-width="0.8"/>
<path d="M1525,987.4 H1636 M1525,989.6999999999999 H1636" stroke="#444" stroke-width="0.7"/>
<path d="M1525.6,910 V1040" stroke-width="0.8"/>
</g>
<g transform="translate(0 6) matrix(0.43703 0.25101 -0.43660 0.24671 1427.94 871.14)" fill="none" stroke="#222" stroke-width="1.2"><path vector-effect="non-scaling-stroke" d="M189.4,1227.6 Q189.4,1239.6 201.4,1239.6 H846.7 Q858.7,1239.6 858.7,1227.6 V917.2 Q858.7,909 854,906.5"/></g>
<g transform="translate(0 12.5) matrix(0.43703 0.25101 -0.43660 0.24671 1427.94 871.14)" fill="none" stroke="#222" stroke-width="1.2"><path vector-effect="non-scaling-stroke" d="M189.4,1227.6 Q189.4,1239.6 201.4,1239.6 H846.7 Q858.7,1239.6 858.7,1227.6 V917.2 Q858.7,909 854,906.5"/></g>
<line x1="970.3" y1="1224.0" x2="970.3" y2="1236.5" stroke="#1e1e1e" stroke-width="0.9" />
<line x1="1263.3" y1="1392.0" x2="1263.3" y2="1404.0" stroke="#1e1e1e" stroke-width="0.9" />
<line x1="1408.5" y1="1313.0" x2="1408.5" y2="1325.0" stroke="#1e1e1e" stroke-width="0.9" />
<g transform=" matrix(0.43703 0.25101 -0.43660 0.24671 1427.94 871.14)" fill="none" stroke="#222" stroke-width="1.2"><path vector-effect="non-scaling-stroke" d="M202,905.2 H846.7 Q858.7,905.2 858.7,917.2 V1227.6 Q858.7,1239.6 846.7,1239.6 H201.4 Q189.4,1239.6 189.4,1227.6 V917.2 Q189.4,905.2 202,905.2 Z" stroke-width="1.5"/><path vector-effect="non-scaling-stroke" d="M229,930.3 H504 Q519,930.3 519,945 M519,1200 Q519,1215 504,1215 H229 Q212,1215 212,1198 V947.3 Q212,930.3 229,930.3"/><path vector-effect="non-scaling-stroke" d="M233,938.5 H503 Q513,938.5 513,948.5 M221,948.5 Q221,938.5 233,938.5 M221,948.5 V1199" stroke-width="0.9"/><path vector-effect="non-scaling-stroke" d="M519,946 V1200" stroke-width="1.1"/><path vector-effect="non-scaling-stroke" d="M517.5,970.2 H609 Q621.3,970.2 621.3,958 V944 Q621.3,928.6 637.7,928.6 H818.6 Q834,928.6 834,944 V1200 Q834,1215.8 818.6,1215.8 H637.7 Q621.3,1215.8 621.3,1200 V1187.5 Q621.3,1175.7 609,1175.7 H517.5" stroke-width="1.1"/><path vector-effect="non-scaling-stroke" d="M517.5,976.3 H612 Q628.5,976.3 628.5,960 V947 Q628.5,935.2 641,935.2 H815 Q827,935.2 827,947.5 V1197 Q827,1209.6 815,1209.6 H641 Q628.5,1209.6 628.5,1197 V1185 Q628.5,1169.5 612,1169.5 H517.5" stroke-width="0.8"/><path vector-effect="non-scaling-stroke" d="M517.5,986.6 H778.5 Q794,986.6 794,1002 V1142 Q794,1158.2 778.5,1158.2 H517.5" stroke-width="1.6"/><path vector-effect="non-scaling-stroke" d="M517.5,996 H776 Q784.5,996 784.5,1004.5 V1140 Q784.5,1148.5 776,1148.5 H517.5" stroke-width="1.6"/><path vector-effect="non-scaling-stroke" d="M517.5,991.3 H777 Q789,991.3 789,1003 V1141 Q789,1153.3 777,1153.3 H517.5" stroke-width="0.7"/><path vector-effect="non-scaling-stroke" d="M517.5,1041 H742 Q749,1041 749,1046.7 Q749,1052.4 742,1052.4 H517.5" stroke-width="1.6"/><path vector-effect="non-scaling-stroke" d="M517.5,1046.7 H744" stroke-width="0.7"/><path vector-effect="non-scaling-stroke" d="M517.5,1093.5 H742 Q749,1093.5 749,1099.2 Q749,1104.9 742,1104.9 H517.5" stroke-width="1.6"/><path vector-effect="non-scaling-stroke" d="M517.5,1099.2 H744" stroke-width="0.7"/><circle vector-effect="non-scaling-stroke" cx="567.8" cy="945.5" r="11" stroke-width="1.1"/><circle vector-effect="non-scaling-stroke" cx="567.8" cy="1200.4" r="11" stroke-width="1.1"/><path vector-effect="non-scaling-stroke" d="M842,1062 V1084" stroke-width="2.2"/></g>
<line x1="1108.3" y1="1158.3" x2="1108.3" y2="1217.8" stroke="#1e1e1e" stroke-width="0.9" />
<path d="M1108.3,1217.8 L1042.7,1255" stroke="#1e1e1e" stroke-width="0.9" fill="none" />
<path d="M1114.4,1227.2 L1054.7,1261.5" stroke="#1e1e1e" stroke-width="0.9" fill="none" />
<path d="M1120,1218.3 L1196.7,1263.9" stroke="#1e1e1e" stroke-width="0.9" fill="none" />
<path d="M1115.6,1227.8 L1185.6,1271.1" stroke="#1e1e1e" stroke-width="0.9" fill="none" />
<path d="M1108.3,1217.8 Q1113.9,1213.5 1120,1218.3" stroke="#1e1e1e" stroke-width="0.8" fill="none" />
<path d="M1108.3,1217.8 Q1109,1226.5 1115,1227.5" stroke="#1e1e1e" stroke-width="0.8" fill="none" />
<path d="M1108.3,1158.3 Q1113.9,1154 1120,1157" stroke="#1e1e1e" stroke-width="0.8" fill="none" />
<path d="M994,1254 L1000.5,1286 Q1002,1291 1007,1293 L1113.3,1354" stroke="#1e1e1e" stroke-width="0.9" fill="none" />
<path d="M997.5,1253 L1003.5,1284" stroke="#1e1e1e" stroke-width="0.7" fill="none" />
<path d="M1007,1289 L1113.3,1350.5" stroke="#1e1e1e" stroke-width="0.6" fill="none" />
<path d="M1114.7,1322 V1353 Q1124,1362 1133.3,1352 V1322" stroke="#1e1e1e" stroke-width="0.9" fill="none" />
<path d="M1133.8,1352 L1154.2,1343" stroke="#1e1e1e" stroke-width="0.9" fill="none" />
<text x="80.2" y="324.8" font-size="22" fill="#7d7d7d" textLength="55.5" lengthAdjust="spacingAndGlyphs">Reno</text>
<text x="80.2" y="356.8" font-size="22" fill="#7d7d7d" textLength="113.1" lengthAdjust="spacingAndGlyphs">cod.: 7310</text>
<text x="80.2" y="386.7" font-size="22" fill="#7d7d7d" textLength="82.1" lengthAdjust="spacingAndGlyphs">ver.: 03</text>
<text x="342.5" y="324.8" font-size="22" fill="#7d7d7d" textLength="306.9" lengthAdjust="spacingAndGlyphs">descrição: lava-louça 1 cuba</text>
<text x="342.5" y="356.8" font-size="22" fill="#7d7d7d" textLength="285.5" lengthAdjust="spacingAndGlyphs">description: one bowl sink</text>
<text x="342.5" y="386.7" font-size="22" fill="#7d7d7d" textLength="266.0" lengthAdjust="spacingAndGlyphs">description: évier 1 cuve</text>
<text x="98.4" y="1367.7" font-size="14.8" fill="#1a1a1a" textLength="583.9" lengthAdjust="spacingAndGlyphs" stroke="#1a1a1a" stroke-width="0.22">Os produtos apresentados seguem especificações técnicas internas da SANINDUSA.</text>
<text x="98.4" y="1385.8" font-size="14.8" fill="#1a1a1a" textLength="852.2" lengthAdjust="spacingAndGlyphs" stroke="#1a1a1a" stroke-width="0.22">As medidas apresentadas estão sujeitas às tolerâncias e variações naturais da cerâmica pelo que serão sempre orientativas.</text>
<text x="98.4" y="1403.8" font-size="14.8" fill="#1a1a1a" textLength="902.4" lengthAdjust="spacingAndGlyphs" stroke="#1a1a1a" stroke-width="0.22">Reservamos o direito de fazer alterações técnicas que permitam melhorar a funcionalidade dos nossos produtos, sem aviso prévio.</text>
<text x="98.4" y="1439.6" font-size="14.8" fill="#1a1a1a" textLength="507.5" lengthAdjust="spacingAndGlyphs" stroke="#1a1a1a" stroke-width="0.22">The presented products follow technical specifications from SANINDUSA.</text>
<text x="98.4" y="1457.6" font-size="14.8" fill="#1a1a1a" textLength="797.3" lengthAdjust="spacingAndGlyphs" stroke="#1a1a1a" stroke-width="0.22">The dimensions of the pieces are subject to natural ceramic tolerances and variations and will be always orientative.</text>
<text x="98.4" y="1475.3" font-size="14.8" fill="#1a1a1a" textLength="679.5" lengthAdjust="spacingAndGlyphs" stroke="#1a1a1a" stroke-width="0.22">We reserve the right to introduce technical improvements in our products without previous advice.</text>
<text x="1093.4" y="1421.7" font-size="15.2" fill="#1a1a1a" textLength="572.4" lengthAdjust="spacingAndGlyphs" stroke="#1a1a1a" stroke-width="0.22">Les produits présentés suivent les spécifications techniques internes de Sanindusa.</text>
<text x="1093.4" y="1439.8" font-size="15.2" fill="#1a1a1a" textLength="392.0" lengthAdjust="spacingAndGlyphs" stroke="#1a1a1a" stroke-width="0.22">Les dimensions de ceux-ci sont données à titre indicatifs.</text>
<text x="1093.4" y="1457.6" font-size="15.2" fill="#1a1a1a" textLength="615.0" lengthAdjust="spacingAndGlyphs" stroke="#1a1a1a" stroke-width="0.22">Nous nous réservons le droit de procéder aux modifications techniques qui permettraient</text>
<text x="1093.4" y="1475.3" font-size="15.2" fill="#1a1a1a" textLength="415.1" lengthAdjust="spacingAndGlyphs" stroke="#1a1a1a" stroke-width="0.22">d'améliorer les fonctionnalités de nos produits, sans préavis.</text>
<path d="M1410.5,315.7 H1390.5 Q1386.5,315.7 1386.5,319.7 V323.3 Q1386.5,327.3 1390.5,327.3 H1408 Q1412,327.3 1412,331.3 V337.7 Q1412,341.7 1408,341.7 H1386.0" stroke="#dc7f2c" stroke-width="2.6" fill="none" stroke-linejoin="round"/>
<path d="M1423.3,315.7 H1443.2 Q1447.2,315.7 1447.2,319.7 V343.3" stroke="#dc7f2c" stroke-width="2.6" fill="none" stroke-linejoin="round"/>
<path d="M1447.2,327.3 H1425.8 Q1421.8,327.3 1421.8,331.3 V337.7 Q1421.8,341.7 1425.8,341.7 H1447.2" stroke="#dc7f2c" stroke-width="2.6" fill="none" stroke-linejoin="round"/>
<path d="M1455.8,343.3 V315.7 H1477.4 Q1482.4,315.7 1482.4,320.7 V343.3" stroke="#dc7f2c" stroke-width="2.6" fill="none" stroke-linejoin="round"/>
<path d="M1491.3,343.3 V314.6" stroke="#5a5a5a" stroke-width="2.6" fill="none" stroke-linejoin="round"/>
<rect x="1490.0" y="306.2" width="2.6" height="4.2" fill="#5a5a5a"/>
<path d="M1499.3,343.3 V315.7 H1521 Q1526,315.7 1526,320.7 V343.3" stroke="#5a5a5a" stroke-width="2.6" fill="none" stroke-linejoin="round"/>
<path d="M1560.3,343.3 V306.2" stroke="#5a5a5a" stroke-width="2.6" fill="none" stroke-linejoin="round"/>
<path d="M1560.3,315.7 H1539.7 Q1534.7,315.7 1534.7,320.7 V336.7 Q1534.7,341.7 1539.7,341.7 H1560.3" stroke="#5a5a5a" stroke-width="2.6" fill="none" stroke-linejoin="round"/>
<path d="M1569.3,314.3 V336.7 Q1569.3,341.7 1574.3,341.7 H1591 Q1596,341.7 1596,336.7 V314.3" stroke="#5a5a5a" stroke-width="2.6" fill="none" stroke-linejoin="round"/>
<path d="M1627.9,315.7 H1608.2 Q1604.2,315.7 1604.2,319.7 V323.3 Q1604.2,327.3 1608.2,327.3 H1625.4 Q1629.4,327.3 1629.4,331.3 V337.7 Q1629.4,341.7 1625.4,341.7 H1603.7" stroke="#5a5a5a" stroke-width="2.6" fill="none" stroke-linejoin="round"/>
<path d="M1641.4,315.7 H1661.2 Q1665.2,315.7 1665.2,319.7 V343.3" stroke="#5a5a5a" stroke-width="2.6" fill="none" stroke-linejoin="round"/>
<path d="M1665.2,327.3 H1643.9 Q1639.9,327.3 1639.9,331.3 V337.7 Q1639.9,341.7 1643.9,341.7 H1665.2" stroke="#5a5a5a" stroke-width="2.6" fill="none" stroke-linejoin="round"/>
<circle cx="1679.3" cy="312" r="5.0" fill="#dc7f2c"/>
<path d="M1673.3,306.8 Q1670.8,312 1673.3,317.2 M1685.3,306.8 Q1687.8,312 1685.3,317.2" stroke="#dc7f2c" stroke-width="2.0" fill="none"/>
<path d="M1677.6,315 V309.5 H1681 V312" stroke="#f2c9a0" stroke-width="0.8" fill="none"/>
</svg>
</body></html>
